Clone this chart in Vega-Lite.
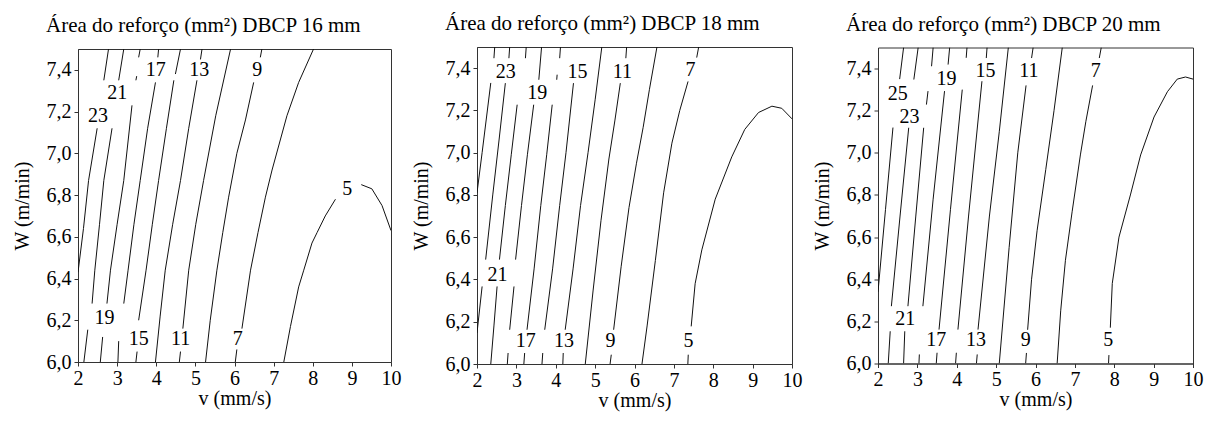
{
"$schema":"https://vega.github.io/schema/vega-lite/v6.json",
"background":"white",
"padding":{"left":11,"top":12,"right":5,"bottom":5},
"bounds":"flush","spacing":86,"center":true,
"config":{"font":"Times New Roman, Liberation Serif, serif","view":{"stroke":"#333","strokeWidth":1},
"axis":{"grid":false,"labelFont":"Times New Roman, Liberation Serif, serif","titleFont":"Times New Roman, Liberation Serif, serif","labelFontSize":20,"titleFontSize":20,"titleFontWeight":"normal","labelColor":"#000","titleColor":"#000","domainColor":"#333","tickColor":"#333","tickSize":4,"labelFlush":false,"labelOverlap":false},
"title":{"font":"Times New Roman, Liberation Serif, serif","fontSize":21,"fontWeight":"normal","color":"#000","anchor":"start","frame":"group","dx":-32,"offset":13}},
"datasets":{
"lines":[
{"p":1,"s":"23a","v":2.0,"w":6.43},{"p":1,"s":"23a","v":2.14,"w":6.64},{"p":1,"s":"23a","v":2.27,"w":6.87},{"p":1,"s":"23a","v":2.49,"w":7.12},
{"p":1,"s":"23b","v":2.66,"w":7.35},{"p":1,"s":"23b","v":2.78,"w":7.5},
{"p":1,"s":"21a","v":2.15,"w":6.0},{"p":1,"s":"21a","v":2.25,"w":6.155},
{"p":1,"s":"21b","v":2.36,"w":6.28},{"p":1,"s":"21b","v":2.43,"w":6.44},{"p":1,"s":"21b","v":2.55,"w":6.66},{"p":1,"s":"21b","v":2.66,"w":6.87},{"p":1,"s":"21b","v":2.87,"w":7.12},
{"p":1,"s":"21c","v":3.04,"w":7.35},{"p":1,"s":"21c","v":3.17,"w":7.5},
{"p":1,"s":"19a","v":2.57,"w":6.0},{"p":1,"s":"19a","v":2.63,"w":6.12},
{"p":1,"s":"19b","v":2.74,"w":6.28},{"p":1,"s":"19b","v":2.83,"w":6.44},{"p":1,"s":"19b","v":3.0,"w":6.66},{"p":1,"s":"19b","v":3.17,"w":6.87},{"p":1,"s":"19b","v":3.38,"w":7.23},
{"p":1,"s":"19c","v":3.48,"w":7.35},{"p":1,"s":"19c","v":3.5,"w":7.37},
{"p":1,"s":"19d","v":3.55,"w":7.46},{"p":1,"s":"19d","v":3.59,"w":7.5},
{"p":1,"s":"17a","v":3.02,"w":6.0},{"p":1,"s":"17a","v":3.04,"w":6.1},
{"p":1,"s":"17b","v":3.17,"w":6.28},{"p":1,"s":"17b","v":3.28,"w":6.44},{"p":1,"s":"17b","v":3.43,"w":6.66},{"p":1,"s":"17b","v":3.59,"w":6.87},{"p":1,"s":"17b","v":3.78,"w":7.12},{"p":1,"s":"17b","v":3.98,"w":7.34},
{"p":1,"s":"17c","v":4.04,"w":7.46},{"p":1,"s":"17c","v":4.06,"w":7.5},
{"p":1,"s":"15a","v":3.48,"w":6.0},{"p":1,"s":"15a","v":3.51,"w":6.05},
{"p":1,"s":"15b","v":3.55,"w":6.2},{"p":1,"s":"15b","v":3.74,"w":6.44},{"p":1,"s":"15b","v":3.9,"w":6.66},{"p":1,"s":"15b","v":4.06,"w":6.87},{"p":1,"s":"15b","v":4.26,"w":7.12},{"p":1,"s":"15b","v":4.45,"w":7.35},
{"p":1,"s":"15c","v":4.49,"w":7.38},{"p":1,"s":"15c","v":4.62,"w":7.5},
{"p":1,"s":"13a","v":3.98,"w":6.0},{"p":1,"s":"13a","v":4.1,"w":6.22},{"p":1,"s":"13a","v":4.23,"w":6.44},{"p":1,"s":"13a","v":4.42,"w":6.66},{"p":1,"s":"13a","v":4.62,"w":6.87},{"p":1,"s":"13a","v":4.83,"w":7.12},{"p":1,"s":"13a","v":5.04,"w":7.35},
{"p":1,"s":"13b","v":5.13,"w":7.45},{"p":1,"s":"13b","v":5.17,"w":7.5},
{"p":1,"s":"11a","v":4.59,"w":6.0},{"p":1,"s":"11a","v":4.62,"w":6.05},
{"p":1,"s":"11b","v":4.68,"w":6.16},{"p":1,"s":"11b","v":4.83,"w":6.44},{"p":1,"s":"11b","v":5.01,"w":6.66},{"p":1,"s":"11b","v":5.21,"w":6.87},{"p":1,"s":"11b","v":5.52,"w":7.18},{"p":1,"s":"11b","v":5.9,"w":7.5},
{"p":1,"s":"9a","v":5.26,"w":6.0},{"p":1,"s":"9a","v":5.38,"w":6.2},{"p":1,"s":"9a","v":5.55,"w":6.44},{"p":1,"s":"9a","v":5.7,"w":6.62},{"p":1,"s":"9a","v":5.85,"w":6.79},{"p":1,"s":"9a","v":6.06,"w":7.0},{"p":1,"s":"9a","v":6.28,"w":7.16},{"p":1,"s":"9a","v":6.49,"w":7.34},
{"p":1,"s":"9b","v":6.66,"w":7.46},{"p":1,"s":"9b","v":6.7,"w":7.5},
{"p":1,"s":"7a","v":6.02,"w":6.0},{"p":1,"s":"7a","v":6.06,"w":6.06},
{"p":1,"s":"7b","v":6.19,"w":6.16},{"p":1,"s":"7b","v":6.41,"w":6.44},{"p":1,"s":"7b","v":6.6,"w":6.62},{"p":1,"s":"7b","v":6.79,"w":6.79},{"p":1,"s":"7b","v":6.96,"w":6.92},{"p":1,"s":"7b","v":7.34,"w":7.18},{"p":1,"s":"7b","v":7.64,"w":7.34},{"p":1,"s":"7b","v":8.02,"w":7.5},
{"p":1,"s":"5a","v":7.26,"w":6.0},{"p":1,"s":"5a","v":7.43,"w":6.17},{"p":1,"s":"5a","v":7.64,"w":6.36},{"p":1,"s":"5a","v":7.77,"w":6.44},{"p":1,"s":"5a","v":7.98,"w":6.57},{"p":1,"s":"5a","v":8.11,"w":6.62},{"p":1,"s":"5a","v":8.32,"w":6.7},{"p":1,"s":"5a","v":8.58,"w":6.78},
{"p":1,"s":"5b","v":9.24,"w":6.85},{"p":1,"s":"5b","v":9.51,"w":6.83},{"p":1,"s":"5b","v":9.77,"w":6.75},{"p":1,"s":"5b","v":10.0,"w":6.63},

{"p":2,"s":"25a","v":2.0,"w":6.81},{"p":2,"s":"25a","v":2.13,"w":7.0},{"p":2,"s":"25a","v":2.35,"w":7.33},
{"p":2,"s":"25b","v":2.43,"w":7.447},{"p":2,"s":"25b","v":2.45,"w":7.5},
{"p":2,"s":"23a","v":2.0,"w":6.147},{"p":2,"s":"23a","v":2.13,"w":6.367},
{"p":2,"s":"23b","v":2.22,"w":6.494},{"p":2,"s":"23b","v":2.4,"w":6.8},{"p":2,"s":"23b","v":2.56,"w":7.06},{"p":2,"s":"23b","v":2.72,"w":7.329},
{"p":2,"s":"23c","v":2.81,"w":7.447},{"p":2,"s":"23c","v":2.83,"w":7.5},
{"p":2,"s":"21a","v":2.35,"w":6.0},{"p":2,"s":"21a","v":2.43,"w":6.18},{"p":2,"s":"21a","v":2.51,"w":6.367},
{"p":2,"s":"21b","v":2.57,"w":6.494},{"p":2,"s":"21b","v":2.72,"w":6.75},{"p":2,"s":"21b","v":2.87,"w":6.99},{"p":2,"s":"21b","v":3.02,"w":7.227},
{"p":2,"s":"21c","v":3.23,"w":7.447},{"p":2,"s":"21c","v":3.25,"w":7.5},
{"p":2,"s":"19a","v":2.77,"w":6.0},{"p":2,"s":"19a","v":2.79,"w":6.052},
{"p":2,"s":"19b","v":2.83,"w":6.162},{"p":2,"s":"19b","v":2.94,"w":6.367},
{"p":2,"s":"19c","v":2.98,"w":6.494},{"p":2,"s":"19c","v":3.13,"w":6.75},{"p":2,"s":"19c","v":3.28,"w":6.99},{"p":2,"s":"19c","v":3.44,"w":7.227},
{"p":2,"s":"19d","v":3.57,"w":7.345},{"p":2,"s":"19d","v":3.64,"w":7.5},
{"p":2,"s":"17a","v":3.19,"w":6.0},{"p":2,"s":"17a","v":3.21,"w":6.052},
{"p":2,"s":"17b","v":3.27,"w":6.162},{"p":2,"s":"17b","v":3.45,"w":6.45},{"p":2,"s":"17b","v":3.62,"w":6.75},{"p":2,"s":"17b","v":3.77,"w":6.99},{"p":2,"s":"17b","v":3.91,"w":7.227},
{"p":2,"s":"17c","v":4.025,"w":7.345},{"p":2,"s":"17c","v":4.035,"w":7.369},
{"p":2,"s":"17d","v":4.1,"w":7.447},{"p":2,"s":"17d","v":4.12,"w":7.5},
{"p":2,"s":"15a","v":3.65,"w":6.0},{"p":2,"s":"15a","v":3.67,"w":6.052},
{"p":2,"s":"15b","v":3.72,"w":6.162},{"p":2,"s":"15b","v":3.92,"w":6.45},{"p":2,"s":"15b","v":4.1,"w":6.75},{"p":2,"s":"15b","v":4.26,"w":7.0},{"p":2,"s":"15b","v":4.45,"w":7.329},
{"p":2,"s":"13a","v":4.18,"w":6.0},{"p":2,"s":"13a","v":4.19,"w":6.052},
{"p":2,"s":"13b","v":4.24,"w":6.162},{"p":2,"s":"13b","v":4.44,"w":6.45},{"p":2,"s":"13b","v":4.63,"w":6.75},{"p":2,"s":"13b","v":4.82,"w":7.0},{"p":2,"s":"13b","v":5.0,"w":7.25},{"p":2,"s":"13b","v":5.17,"w":7.5},
{"p":2,"s":"11a","v":4.75,"w":6.0},{"p":2,"s":"11a","v":4.95,"w":6.35},{"p":2,"s":"11a","v":5.15,"w":6.68},{"p":2,"s":"11a","v":5.35,"w":6.97},{"p":2,"s":"11a","v":5.5,"w":7.15},{"p":2,"s":"11a","v":5.64,"w":7.329},
{"p":2,"s":"11b","v":5.78,"w":7.447},{"p":2,"s":"11b","v":5.8,"w":7.5},
{"p":2,"s":"9a","v":5.38,"w":6.0},{"p":2,"s":"9a","v":5.41,"w":6.044},
{"p":2,"s":"9b","v":5.47,"w":6.162},{"p":2,"s":"9b","v":5.66,"w":6.46},{"p":2,"s":"9b","v":5.86,"w":6.74},{"p":2,"s":"9b","v":6.05,"w":6.95},{"p":2,"s":"9b","v":6.22,"w":7.12},{"p":2,"s":"9b","v":6.38,"w":7.3},{"p":2,"s":"9b","v":6.57,"w":7.5},
{"p":2,"s":"7a","v":6.19,"w":6.0},{"p":2,"s":"7a","v":6.32,"w":6.18},{"p":2,"s":"7a","v":6.53,"w":6.49},{"p":2,"s":"7a","v":6.74,"w":6.81},{"p":2,"s":"7a","v":6.95,"w":7.045},{"p":2,"s":"7a","v":7.15,"w":7.2},{"p":2,"s":"7a","v":7.36,"w":7.337},
{"p":2,"s":"7b","v":7.58,"w":7.45},{"p":2,"s":"7b","v":7.63,"w":7.5},
{"p":2,"s":"5a","v":7.355,"w":6.0},{"p":2,"s":"5a","v":7.365,"w":6.044},
{"p":2,"s":"5b","v":7.44,"w":6.178},{"p":2,"s":"5b","v":7.54,"w":6.38},{"p":2,"s":"5b","v":7.71,"w":6.54},{"p":2,"s":"5b","v":8.05,"w":6.78},{"p":2,"s":"5b","v":8.47,"w":6.98},{"p":2,"s":"5b","v":8.8,"w":7.11},{"p":2,"s":"5b","v":9.15,"w":7.19},{"p":2,"s":"5b","v":9.49,"w":7.22},{"p":2,"s":"5b","v":9.74,"w":7.21},{"p":2,"s":"5b","v":10.0,"w":7.16},

{"p":3,"s":"25a","v":2.0,"w":6.34},{"p":3,"s":"25a","v":2.19,"w":6.73},{"p":3,"s":"25a","v":2.38,"w":7.12},
{"p":3,"s":"25b","v":2.55,"w":7.35},{"p":3,"s":"25b","v":2.65,"w":7.5},
{"p":3,"s":"23a","v":2.26,"w":6.0},{"p":3,"s":"23a","v":2.31,"w":6.153},
{"p":3,"s":"23b","v":2.34,"w":6.272},{"p":3,"s":"23b","v":2.56,"w":6.7},{"p":3,"s":"23b","v":2.78,"w":7.119},
{"p":3,"s":"23c","v":2.91,"w":7.348},{"p":3,"s":"23c","v":3.02,"w":7.5},
{"p":3,"s":"21a","v":2.65,"w":6.0},{"p":3,"s":"21a","v":2.68,"w":6.153},
{"p":3,"s":"21b","v":2.76,"w":6.272},{"p":3,"s":"21b","v":2.96,"w":6.7},{"p":3,"s":"21b","v":3.16,"w":7.119},
{"p":3,"s":"21c","v":3.23,"w":7.229},{"p":3,"s":"21c","v":3.27,"w":7.293},
{"p":3,"s":"21d","v":3.36,"w":7.411},{"p":3,"s":"21d","v":3.4,"w":7.5},
{"p":3,"s":"19a","v":3.04,"w":6.0},{"p":3,"s":"19a","v":3.05,"w":6.043},
{"p":3,"s":"19b","v":3.14,"w":6.272},{"p":3,"s":"19b","v":3.4,"w":6.78},{"p":3,"s":"19b","v":3.69,"w":7.293},
{"p":3,"s":"19c","v":3.78,"w":7.419},{"p":3,"s":"19c","v":3.82,"w":7.5},
{"p":3,"s":"17a","v":3.48,"w":6.0},{"p":3,"s":"17a","v":3.5,"w":6.051},
{"p":3,"s":"17b","v":3.55,"w":6.161},{"p":3,"s":"17b","v":3.84,"w":6.73},{"p":3,"s":"17b","v":4.14,"w":7.3},
{"p":3,"s":"17c","v":4.24,"w":7.451},{"p":3,"s":"17c","v":4.26,"w":7.5},
{"p":3,"s":"15a","v":3.97,"w":6.0},{"p":3,"s":"15a","v":3.99,"w":6.051},
{"p":3,"s":"15b","v":4.03,"w":6.161},{"p":3,"s":"15b","v":4.3,"w":6.7},{"p":3,"s":"15b","v":4.64,"w":7.34},
{"p":3,"s":"15c","v":4.75,"w":7.45},{"p":3,"s":"15c","v":4.77,"w":7.5},
{"p":3,"s":"13a","v":4.5,"w":6.0},{"p":3,"s":"13a","v":4.52,"w":6.043},
{"p":3,"s":"13b","v":4.54,"w":6.161},{"p":3,"s":"13b","v":4.83,"w":6.7},{"p":3,"s":"13b","v":5.08,"w":7.1},{"p":3,"s":"13b","v":5.31,"w":7.5},
{"p":3,"s":"11a","v":5.08,"w":6.0},{"p":3,"s":"11a","v":5.33,"w":6.55},{"p":3,"s":"11a","v":5.55,"w":7.0},{"p":3,"s":"11a","v":5.76,"w":7.32},
{"p":3,"s":"11b","v":5.9,"w":7.45},{"p":3,"s":"11b","v":5.94,"w":7.5},
{"p":3,"s":"9a","v":5.75,"w":6.0},{"p":3,"s":"9a","v":5.77,"w":6.05},
{"p":3,"s":"9b","v":5.8,"w":6.16},{"p":3,"s":"9b","v":5.9,"w":6.4},{"p":3,"s":"9b","v":6.04,"w":6.63},{"p":3,"s":"9b","v":6.26,"w":6.92},{"p":3,"s":"9b","v":6.47,"w":7.2},{"p":3,"s":"9b","v":6.68,"w":7.5},
{"p":3,"s":"7a","v":6.55,"w":6.0},{"p":3,"s":"7a","v":6.64,"w":6.25},{"p":3,"s":"7a","v":6.76,"w":6.49},{"p":3,"s":"7a","v":6.93,"w":6.72},{"p":3,"s":"7a","v":7.14,"w":6.99},{"p":3,"s":"7a","v":7.28,"w":7.15},{"p":3,"s":"7a","v":7.45,"w":7.32},
{"p":3,"s":"7b","v":7.62,"w":7.45},{"p":3,"s":"7b","v":7.67,"w":7.5},
{"p":3,"s":"5a","v":7.855,"w":6.0},{"p":3,"s":"5a","v":7.865,"w":6.04},
{"p":3,"s":"5b","v":7.9,"w":6.17},{"p":3,"s":"5b","v":7.95,"w":6.38},{"p":3,"s":"5b","v":8.12,"w":6.6},{"p":3,"s":"5b","v":8.41,"w":6.8},{"p":3,"s":"5b","v":8.67,"w":6.99},{"p":3,"s":"5b","v":9.01,"w":7.17},{"p":3,"s":"5b","v":9.35,"w":7.29},{"p":3,"s":"5b","v":9.6,"w":7.35},{"p":3,"s":"5b","v":9.81,"w":7.36},{"p":3,"s":"5b","v":10.0,"w":7.35}
],
"labels":[
{"p":1,"t":"23","v":2.51,"w":7.18},{"p":1,"t":"21","v":3.0,"w":7.29},{"p":1,"t":"17","v":3.99,"w":7.4},{"p":1,"t":"13","v":5.1,"w":7.4},{"p":1,"t":"9","v":6.58,"w":7.4},
{"p":1,"t":"19","v":2.68,"w":6.21},{"p":1,"t":"15","v":3.55,"w":6.11},{"p":1,"t":"11","v":4.62,"w":6.11},{"p":1,"t":"7","v":6.08,"w":6.11},{"p":1,"t":"5","v":8.88,"w":6.83},
{"p":2,"t":"23","v":2.73,"w":7.38},{"p":2,"t":"19","v":3.53,"w":7.28},{"p":2,"t":"15","v":4.55,"w":7.38},{"p":2,"t":"11","v":5.69,"w":7.38},{"p":2,"t":"7","v":7.42,"w":7.39},
{"p":2,"t":"21","v":2.52,"w":6.42},{"p":2,"t":"17","v":3.24,"w":6.11},{"p":2,"t":"13","v":4.21,"w":6.11},{"p":2,"t":"9","v":5.39,"w":6.11},{"p":2,"t":"5","v":7.37,"w":6.11},
{"p":3,"t":"25","v":2.5,"w":7.28},{"p":3,"t":"23","v":2.8,"w":7.17},{"p":3,"t":"19","v":3.74,"w":7.35},{"p":3,"t":"15","v":4.73,"w":7.39},{"p":3,"t":"11","v":5.83,"w":7.39},{"p":3,"t":"7","v":7.53,"w":7.39},
{"p":3,"t":"21","v":2.69,"w":6.21},{"p":3,"t":"17","v":3.48,"w":6.11},{"p":3,"t":"13","v":4.49,"w":6.11},{"p":3,"t":"9","v":5.75,"w":6.11},{"p":3,"t":"5","v":7.85,"w":6.11}
]},
"hconcat":[
{"width":313,"height":313,"title":{"text":"Área do reforço (mm²) DBCP 16 mm"},
"encoding":{"x":{"field":"v","type":"quantitative","scale":{"domain":[2,10],"nice":false},"axis":{"title":"v (mm/s)","values":[2,3,4,5,6,7,8,9,10],"format":"d","labelOverlap":false,"labelPadding":2,"titlePadding":0}},
"y":{"field":"w","type":"quantitative","scale":{"domain":[6,7.5],"nice":false,"zero":false},"axis":{"title":"W (m/min)","values":[6,6.2,6.4,6.6,6.8,7,7.2,7.4],"labelOverlap":false,"labelExpr":"replace(format(datum.value, '.1f'), '.', ',')","labelPadding":3,"titlePadding":14}}},
"layer":[
{"data":{"name":"lines"},"transform":[{"filter":"datum.p == 1"}],"mark":{"type":"line","stroke":"#111","strokeWidth":1,"clip":true},"encoding":{"detail":{"field":"s"}}},
{"data":{"name":"labels"},"transform":[{"filter":"datum.p == 1"}],"mark":{"type":"text","fontSize":20,"font":"Times New Roman, Liberation Serif, serif","color":"#000","baseline":"middle","align":"center"},"encoding":{"text":{"field":"t"}}}
]},
{"width":315,"height":317,"title":{"text":"Área do reforço (mm²) DBCP 18 mm"},
"encoding":{"x":{"field":"v","type":"quantitative","scale":{"domain":[2,10],"nice":false},"axis":{"title":"v (mm/s)","values":[2,3,4,5,6,7,8,9,10],"format":"d","labelOverlap":false,"labelPadding":2,"titlePadding":0}},
"y":{"field":"w","type":"quantitative","scale":{"domain":[6,7.5],"nice":false,"zero":false},"axis":{"title":"W (m/min)","values":[6,6.2,6.4,6.6,6.8,7,7.2,7.4],"labelOverlap":false,"labelExpr":"replace(format(datum.value, '.1f'), '.', ',')","labelPadding":3,"titlePadding":14}}},
"layer":[
{"data":{"name":"lines"},"transform":[{"filter":"datum.p == 2"}],"mark":{"type":"line","stroke":"#111","strokeWidth":1,"clip":true},"encoding":{"detail":{"field":"s"}}},
{"data":{"name":"labels"},"transform":[{"filter":"datum.p == 2"}],"mark":{"type":"text","fontSize":20,"font":"Times New Roman, Liberation Serif, serif","color":"#000","baseline":"middle","align":"center"},"encoding":{"text":{"field":"t"}}}
]},
{"width":315,"height":316,"title":{"text":"Área do reforço (mm²) DBCP 20 mm"},
"encoding":{"x":{"field":"v","type":"quantitative","scale":{"domain":[2,10],"nice":false},"axis":{"title":"v (mm/s)","values":[2,3,4,5,6,7,8,9,10],"format":"d","labelOverlap":false,"labelPadding":2,"titlePadding":0}},
"y":{"field":"w","type":"quantitative","scale":{"domain":[6,7.5],"nice":false,"zero":false},"axis":{"title":"W (m/min)","values":[6,6.2,6.4,6.6,6.8,7,7.2,7.4],"labelOverlap":false,"labelExpr":"replace(format(datum.value, '.1f'), '.', ',')","labelPadding":3,"titlePadding":14}}},
"layer":[
{"data":{"name":"lines"},"transform":[{"filter":"datum.p == 3"}],"mark":{"type":"line","stroke":"#111","strokeWidth":1,"clip":true},"encoding":{"detail":{"field":"s"}}},
{"data":{"name":"labels"},"transform":[{"filter":"datum.p == 3"}],"mark":{"type":"text","fontSize":20,"font":"Times New Roman, Liberation Serif, serif","color":"#000","baseline":"middle","align":"center"},"encoding":{"text":{"field":"t"}}}
]}
]
}
